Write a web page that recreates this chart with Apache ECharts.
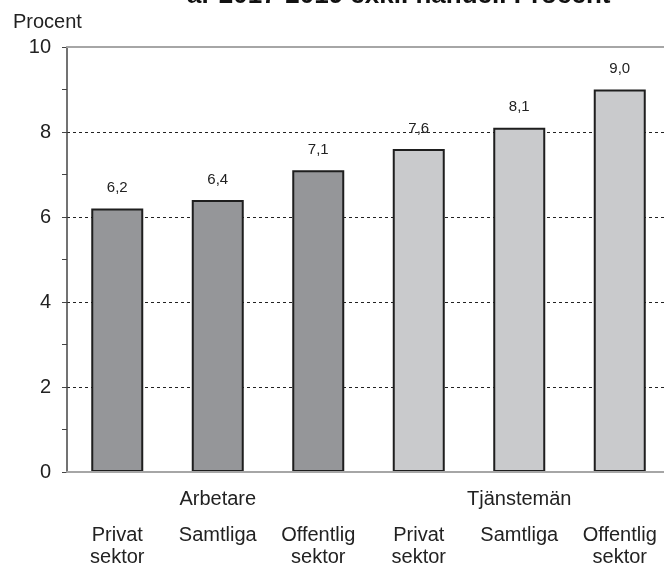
<!DOCTYPE html>
<html>
<head>
<meta charset="utf-8">
<script src="https://cdn.jsdelivr.net/npm/echarts@6/dist/echarts.min.js"></script>
<style>html,body{margin:0;padding:0;background:#fff;}#c{width:664px;height:566px;}</style>
</head>
<body>
<div id="c"></div>
<script>
const categories = ['Privat\nsektor', 'Samtliga', 'Offentlig\nsektor', 'Privat\nsektor', 'Samtliga', 'Offentlig\nsektor'];
const groupLabels = ['Arbetare', 'Tjänstemän'];
const groupOfBar = [0, 0, 0, 1, 1, 1];
const values = [6.2, 6.4, 7.1, 7.6, 8.1, 9.0];
const groupColors = ['#959699', '#c9cacc'];
const yMin = 0, yMax = 10, yInterval = 2;
const titleText = 'år 2017-2019 exkl. handel. Procent';
const yName = 'Procent';

const FONT = 'Liberation Sans, Arial, sans-serif';
const chart = echarts.init(document.getElementById('c'), null, {renderer: 'canvas'});
chart.setOption({
  animation: false,
  textStyle: {fontFamily: FONT},
  title: {
    text: titleText, left: 182, top: -22,
    textStyle: {fontFamily: FONT, fontSize: 26, fontWeight: 'bold', color: '#111'}
  },
  graphic: [{
    type: 'text', left: 13, top: 12,
    style: {text: yName, fontFamily: FONT, fontSize: 20, fill: '#222'}
  }],
  grid: {left: 67, top: 47, bottom: 94, right: -6, containLabel: false, outerBoundsMode: 'none'},
  xAxis: [
    {
      type: 'category', data: categories, position: 'bottom', z: 5,
      axisLine: {lineStyle: {color: '#a6a6a6', width: 2}},
      axisTick: {show: false},
      axisLabel: {interval: 0, fontSize: 20, lineHeight: 22, margin: 52, color: '#222', fontFamily: FONT}
    },
    {
      type: 'category', data: groupLabels, position: 'bottom', z: 5,
      axisLine: {show: false}, axisTick: {show: false},
      axisLabel: {interval: 0, fontSize: 20, margin: 17, color: '#222', fontFamily: FONT}
    },
    {
      type: 'category', data: categories, position: 'top', z: 5,
      axisLine: {lineStyle: {color: '#a6a6a6', width: 2}},
      axisTick: {show: false}, axisLabel: {show: false}
    }
  ],
  yAxis: {
    type: 'value', min: yMin, max: yMax, interval: yInterval,
    axisLine: {show: true, lineStyle: {color: '#444', width: 1.5}},
    axisTick: {show: true, length: 5, lineStyle: {color: '#444'}},
    minorTick: {show: true, splitNumber: 2, length: 5, lineStyle: {color: '#444'}},
    axisLabel: {fontSize: 20, color: '#222', margin: 16, fontFamily: FONT},
    splitLine: {show: true, lineStyle: {type: [3, 3], color: '#222', width: 1}}
  },
  series: [{
    type: 'bar', xAxisIndex: 0,
    data: values.map((v, i) => ({value: v, itemStyle: {color: groupColors[groupOfBar[i]]}})),
    barWidth: 52,
    itemStyle: {borderColor: '#1e1e1e', borderWidth: 2},
    label: {
      show: true, position: 'top', distance: 13, fontSize: 15, color: '#222', fontFamily: FONT,
      formatter: p => p.value.toFixed(1).replace('.', ',')
    }
  }]
});
</script>
</body>
</html>
